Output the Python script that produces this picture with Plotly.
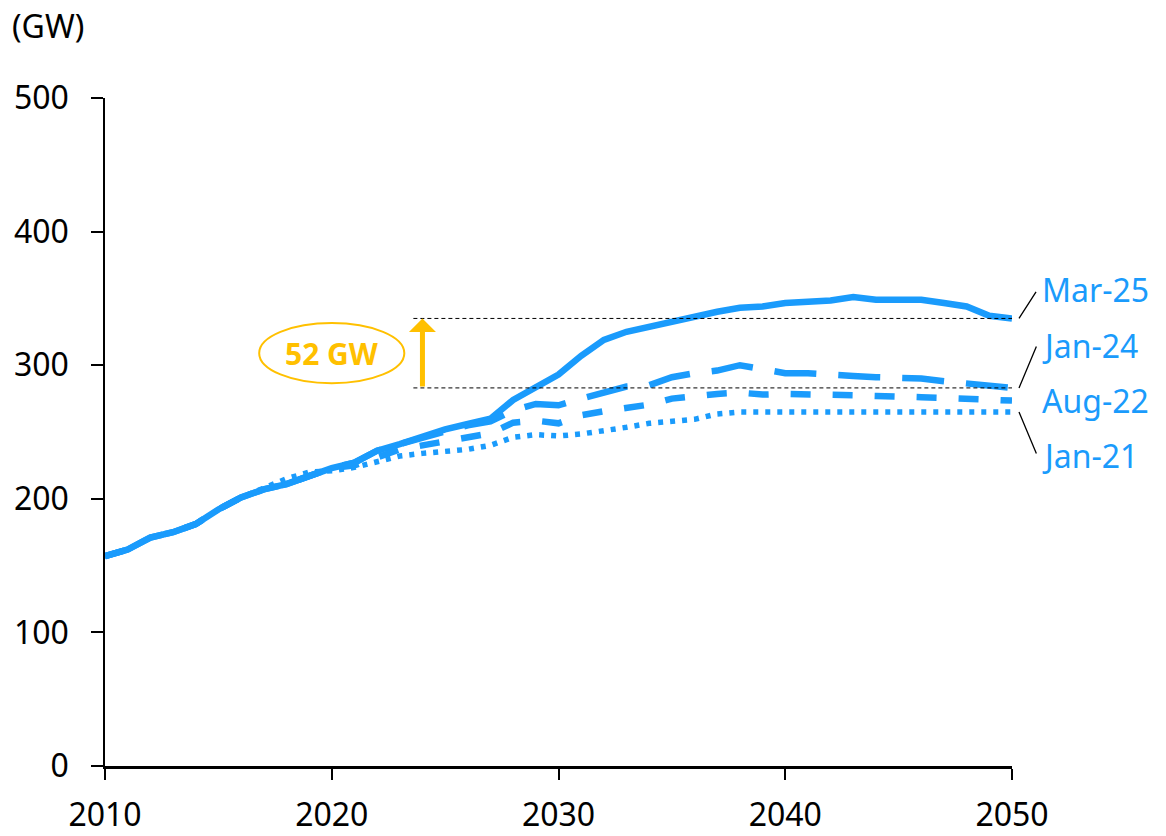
import plotly.graph_objects as go

years = list(range(2010, 2051))

mar25 = [157, 162, 171, 175, 181, 192, 201, 207, 211, 217,
         223, 227, 236, 241, 247, 252, 256, 260, 274, 284,
         293, 307, 319, 325, 329, 333, 337, 340, 343, 344,
         346.5, 347, 348.5, 351, 349, 349, 349, 346.5, 344, 337,
         335]
jan24 = [157, 162, 171, 175, 181, 192, 201, 207, 211, 217,
         223, 227, 236, 241, 246, 251, 255, 258, 266, 271,
         270, 275, 279, 284, 285, 291, 294, 296, 300, 297,
         294, 294, 293.5, 292, 291, 290.5, 290, 288, 286.5, 285,
         283]
aug22 = [157, 162, 171, 175, 181, 192, 201, 207, 211, 217,
         223, 225, 231, 237, 240, 243, 245, 249, 257, 258.5,
         256.5, 262.5, 265.5, 268, 270.5, 275, 277, 278.5, 279.5, 278,
         278.5, 278.5, 277.5, 277.5, 277, 277, 276, 275.5, 275, 275,
         273.5]
jan21 = [157, 162, 171, 175, 181, 192, 201, 208, 215, 220,
         221, 223.5, 228, 232, 234, 235.5, 237, 240, 246, 248,
         247, 248.5, 250.5, 253.5, 256.5, 258.5, 259.5, 263.5, 265, 265,
         265, 265, 265, 265, 265, 265, 265, 265, 265, 265,
         265]

series_names = ["Mar-25", "Jan-24", "Aug-22", "Jan-21"]
series_values = [mar25, jan24, aug22, jan21]
label_y = [357, 314.5, 273.5, 232.5]

x_ticks = [2010, 2020, 2030, 2040, 2050]
y_ticks = [0, 100, 200, 300, 400, 500]

BLUE = "#1A9BFC"
GOLD = "#FFC000"
FONT = "Noto Sans"

dashes = ["solid", "42px,22px", "20px,22px", "5px,7px"]
widths = [6.5, 6.5, 6.5, 5.5]

fig = go.Figure()
for name, vals, dsh, w in zip(series_names, series_values, dashes, widths):
    fig.add_trace(go.Scatter(x=years, y=vals, mode="lines", name=name,
                             line=dict(color=BLUE, width=w, dash=dsh),
                             showlegend=False))

top = mar25[-1]
low = jan24[-1]
gap = round(top - low)

# dashed reference lines
for yv in (top, low):
    fig.add_shape(type="line", xref="x", yref="y", x0=2023.6, x1=2050,
                  y0=yv, y1=yv, line=dict(color="black", width=1, dash="4px,3px"),
                  layer="above")

# arrow
fig.add_annotation(x=2024, y=top, ax=2024, ay=low, xref="x", yref="y",
                   axref="x", ayref="y", text="", showarrow=True,
                   arrowhead=1, arrowsize=0.9, arrowwidth=5, arrowcolor=GOLD,
                   standoff=0, startstandoff=0)

# ellipse + label
mid = (top + low) / 2
fig.add_shape(type="circle", xref="x", yref="y", x0=2016.8, x1=2023.2,
              y0=mid - 22.5, y1=mid + 22.5, line=dict(color=GOLD, width=2))
fig.add_annotation(x=2020, y=mid, xref="x", yref="y", text=f"<b>{gap} GW</b>",
                   showarrow=False, font=dict(family=FONT, size=30, color=GOLD))

# series labels
for name, ly in zip(series_names, label_y):
    fig.add_annotation(x=2050, y=ly, xref="x", yref="y", text=name,
                       showarrow=False, xanchor="left", yanchor="middle",
                       xshift=28, font=dict(family=FONT, size=32, color=BLUE))

# leader lines
leaders = [(mar25[-1], 18, -28), (jan24[-1], 18, -43), (jan21[-1], 18, 43)]
for yv, axp, ayp in leaders:
    fig.add_annotation(x=2050, y=yv, xref="x", yref="y", ax=axp, ay=ayp,
                       xshift=7, text="", showarrow=True, arrowhead=0,
                       arrowwidth=1.3, arrowcolor="black",
                       standoff=0, startstandoff=0)

fig.add_annotation(x=0, y=1, xref="paper", yref="paper", xanchor="left",
                   yanchor="middle", text="(GW)", showarrow=False,
                   xshift=-95, yshift=73, font=dict(family=FONT, size=32, color="black"))

fig.update_layout(
    width=1166, height=836,
    paper_bgcolor="white", plot_bgcolor="white",
    margin=dict(l=105, r=154, t=98, b=70, autoexpand=False),
    font=dict(family=FONT, size=32, color="black"),
    xaxis=dict(range=[2010, 2050], tickvals=x_ticks, ticktext=[str(v) for v in x_ticks],
               showgrid=False, zeroline=False, showline=True, linecolor="black",
               linewidth=2.5, ticks="outside", ticklen=11, tickwidth=1.5,
               tickcolor="black", ticklabelstandoff=8, automargin=False),
    yaxis=dict(range=[0, 500], tickvals=y_ticks, showgrid=False, zeroline=False,
               showline=True, linecolor="black", linewidth=1.5, ticks="outside",
               ticklen=12, tickwidth=1.5, tickcolor="black", ticklabelstandoff=16,
               automargin=False),
)

fig.write_html("out.html")
